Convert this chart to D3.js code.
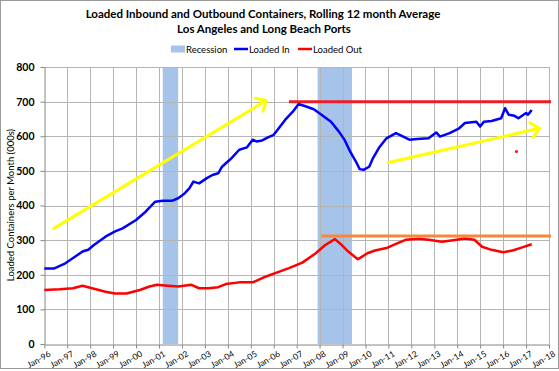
<!DOCTYPE html>
<html>
<head>
<meta charset="utf-8">
<script src="https://cdn.jsdelivr.net/npm/d3@7"></script>
<style>
  body { margin: 0; background: #fff; }
  svg { display: block; font-family: Lato, "Open Sans", sans-serif; }
</style>
</head>
<body>
<div id="chart"></div>
<script>
// Loaded containers, LA + Long Beach, rolling 12 month average (000s / month).
// Values.
var inDates = ["1996-01","1996-06","1996-12","1997-09","1997-12","1998-03","1998-09","1999-02",
  "1999-06","2000-01","2000-06","2000-11","2001-03","2001-08","2001-11","2002-02","2002-05",
  "2002-07","2002-10","2003-02","2003-05","2003-08","2003-10","2004-01","2004-03","2004-07",
  "2004-11","2005-02","2005-04","2005-07","2005-10","2006-01","2006-03","2006-07","2006-11",
  "2007-02","2007-06","2007-10","2008-02","2008-07","2008-11","2009-02","2009-05","2009-08",
  "2009-10","2009-12","2010-03","2010-05","2010-08","2010-12","2011-05","2011-08","2011-12",
  "2012-04","2012-10","2013-02","2013-04","2013-09","2014-02","2014-05","2014-11","2015-01",
  "2015-03","2015-07","2015-12","2016-02","2016-04","2016-07","2016-09","2017-01","2017-02",
  "2017-04"];
var inValues = [218,218,233,267,272,286,310,325,
  334,358,382,411,414,414,421,433,450,
  469,464,479,488,493,512,527,537,561,
  568,590,585,588,597,604,618,647,671,
  693,686,678,662,642,614,590,556,527,
  505,503,512,537,566,594,609,601,590,
  592,594,611,599,609,623,638,642,628,
  642,644,652,681,662,659,652,667,662,
  676];

var outDates = ["1996-01","1996-09","1997-04","1997-09","1997-12","1998-09","1999-02","1999-08",
  "2000-03","2000-08","2000-12","2001-04","2001-11","2002-06","2002-10","2003-03","2003-08",
  "2003-12","2004-07","2005-02","2005-09","2006-04","2006-09","2007-04","2007-11","2008-04",
  "2008-09","2008-12","2009-04","2009-09","2009-10","2010-02","2010-06","2010-12","2011-05",
  "2011-10","2012-05","2012-10","2013-05","2013-10","2014-05","2014-10","2015-02","2015-07",
  "2016-01","2016-06","2016-11","2017-04"];
var outValues = [156,158,161,168,164,151,146,146,
  156,166,171,169,166,171,161,161,164,
  173,178,178,195,209,219,235,262,286,
  303,289,267,245,248,262,270,277,289,
  301,304,301,295,299,305,301,281,272,
  265,270,279,288];

var recessionStart = ["2001-03", "2007-12"];
var recessionEnd = ["2001-11", "2009-06"];

var yTicks = [0, 100, 200, 300, 400, 500, 600, 700, 800];
var xTickYears = d3.range(1996, 2019);

// hand-drawn annotations, in data units: [fromDate, fromValue, toDate, toValue]
var arrows = [["1996-06", 334, "2005-09", 703], ["2011-01", 524, "2017-08", 623]];
var refLines = [["2006-09", "2018-01", 700, "#ee1c25"], ["2008-02", "2018-01", 312, "#f7873a"]];
var dotDate = "2016-08", dotValue = 556;

(function () {
  var W = 559, H = 371;
  var parse = d3.timeParse("%Y-%m");
  var fmt = d3.timeFormat("Jan-%y");

  var svg = d3.select("#chart").append("svg").attr("width", W).attr("height", H);

  // chart-area frame
  svg.append("rect").attr("x", 0.5).attr("y", 0.5).attr("width", W - 1).attr("height", H - 3)
    .attr("fill", "#fff").attr("stroke", "#9a9a9a");

  var x = d3.scaleTime().domain([new Date(1996, 0, 1), new Date(2018, 0, 1)]).range([44.3, 549]);
  var y = d3.scaleLinear().domain([0, 800]).range([344, 67]);

  // -- recession bands ----------------------------------------------------
  svg.append("g").selectAll("rect")
    .data(recessionStart.map(function (s, i) { return [parse(s), parse(recessionEnd[i])]; }))
    .join("rect")
    .attr("x", function (d) { return x(d[0]); })
    .attr("width", function (d) { return x(d[1]) - x(d[0]); })
    .attr("y", y(800)).attr("height", y(0) - y(800))
    .attr("fill", "#a6c3ea");

  // -- gridlines ------------------------------------------------------------
  var grid = svg.append("g").attr("stroke", "#b4b4b4").attr("stroke-width", 1);
  grid.selectAll(".h").data(yTicks.slice(1)).join("line")
    .attr("x1", x.range()[0]).attr("x2", x.range()[1])
    .attr("y1", function (d) { return Math.round(y(d)) + 0.5; })
    .attr("y2", function (d) { return Math.round(y(d)) + 0.5; });
  grid.selectAll(".v").data(xTickYears.slice(1)).join("line")
    .attr("x1", function (d) { return Math.round(x(new Date(d, 0, 1))) + 0.5; })
    .attr("x2", function (d) { return Math.round(x(new Date(d, 0, 1))) + 0.5; })
    .attr("y1", y(800)).attr("y2", y(0));

  // -- axes -----------------------------------------------------------------
  var yAxis = svg.append("g").attr("transform", "translate(" + (Math.round(x.range()[0]) + 0.5) + ",0)")
    .call(d3.axisLeft(y).tickValues(yTicks).tickSize(4).tickPadding(6).tickSizeOuter(0));
  yAxis.selectAll("path, line").attr("stroke", "#868686");
  yAxis.selectAll("text").attr("font-size", 10.5).attr("font-weight", "bold")
    .attr("font-family", "Lato, sans-serif").attr("fill", "#000");

  var xAxis = svg.append("g").attr("transform", "translate(0," + (Math.round(y(0)) + 0.5) + ")")
    .call(d3.axisBottom(x).tickValues(xTickYears.map(function (d) { return new Date(d, 0, 1); }))
      .tickFormat(fmt).tickSize(4).tickSizeOuter(0));
  xAxis.selectAll("path, line").attr("stroke", "#868686");
  xAxis.selectAll("text")
    .attr("font-size", 8.5).attr("font-family", "Lato, sans-serif").attr("fill", "#000")
    .attr("text-anchor", "end").attr("dy", 0)
    .attr("transform", "translate(3,5) rotate(-30)");

  // -- series ---------------------------------------------------------------
  var line = d3.line()
    .x(function (d) { return x(d[0]); })
    .y(function (d) { return y(d[1]); });

  function pairs(ds, vs) { return ds.map(function (d, i) { return [parse(d), vs[i]]; }); }

  svg.append("path").datum(pairs(outDates, outValues)).attr("d", line)
    .attr("fill", "none").attr("stroke", "#ff0000").attr("stroke-width", 2.5)
    .attr("stroke-linejoin", "round");
  svg.append("path").datum(pairs(inDates, inValues)).attr("d", line)
    .attr("fill", "none").attr("stroke", "#0000ff").attr("stroke-width", 2.5)
    .attr("stroke-linejoin", "round");

  // -- annotations ----------------------------------------------------------
  svg.append("g").selectAll("line").data(refLines).join("line")
    .attr("x1", function (d) { return x(parse(d[0])); })
    .attr("x2", function (d) { return x(parse(d[1])) + 2; })
    .attr("y1", function (d) { return y(d[2]); })
    .attr("y2", function (d) { return y(d[2]); })
    .attr("stroke", function (d) { return d[3]; }).attr("stroke-width", 3);

  var ag = svg.append("g").attr("stroke", "#ffff00").attr("stroke-width", 3)
    .attr("fill", "none").attr("stroke-linecap", "round").attr("stroke-linejoin", "round");
  arrows.forEach(function (a) {
    var x0 = x(parse(a[0])), y0 = y(a[1]), x1 = x(parse(a[2])), y1 = y(a[3]);
    var ang = Math.atan2(y1 - y0, x1 - x0), L = 11;
    ag.append("line").attr("x1", x0).attr("y1", y0).attr("x2", x1).attr("y2", y1);
    ag.append("path").attr("d", "M" + (x1 - L * Math.cos(ang - 0.75)) + "," + (y1 - L * Math.sin(ang - 0.75)) +
      "L" + x1 + "," + y1 +
      "L" + (x1 - L * Math.cos(ang + 0.75)) + "," + (y1 - L * Math.sin(ang + 0.75)));
  });

  svg.append("circle").attr("cx", x(parse(dotDate))).attr("cy", y(dotValue))
    .attr("r", 1.6).attr("fill", "#ee1c25");

  // -- titles ---------------------------------------------------------------
  var title = svg.append("g").attr("font-weight", "bold").attr("font-size", 11.5)
    .attr("text-anchor", "middle").attr("fill", "#000");
  title.append("text").attr("x", 263).attr("y", 17.5)
    .text("Loaded Inbound and Outbound Containers, Rolling 12 month Average");
  title.append("text").attr("x", 264).attr("y", 32.5).text("Los Angeles and Long Beach Ports");

  svg.append("text").attr("transform", "translate(14,205) rotate(-90)")
    .attr("text-anchor", "middle").attr("font-size", 9.5)
    .text("Loaded Containers per Month (000s)");

  // -- legend ---------------------------------------------------------------
  var lg = svg.append("g").attr("font-size", 9.5).attr("fill", "#000");
  lg.append("rect").attr("x", 171).attr("y", 45.5).attr("width", 14).attr("height", 7).attr("fill", "#a6c3ea");
  lg.append("text").attr("x", 186).attr("y", 52.5).text("Recession");
  lg.append("line").attr("x1", 234).attr("x2", 248).attr("y1", 49).attr("y2", 49)
    .attr("stroke", "#0000ff").attr("stroke-width", 2.5);
  lg.append("text").attr("x", 249).attr("y", 52.5).text("Loaded In");
  lg.append("line").attr("x1", 298).attr("x2", 312).attr("y1", 49).attr("y2", 49)
    .attr("stroke", "#ff0000").attr("stroke-width", 2.5);
  lg.append("text").attr("x", 313).attr("y", 52.5).text("Loaded Out");
})();
</script>
</body>
</html>
